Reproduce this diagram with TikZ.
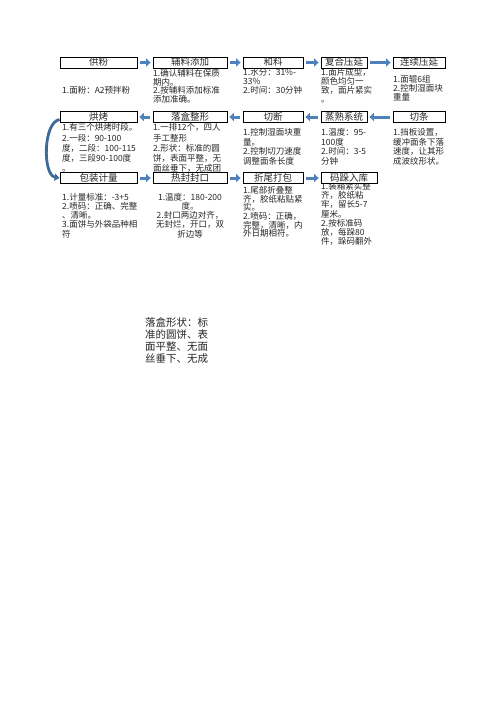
\documentclass[tikz,border=0pt]{standalone}
\usepackage{fontspec}
\setmainfont{Noto Sans CJK SC}
\usepackage{xcolor}
\usepackage{tikz}
\usetikzlibrary{positioning,arrows.meta}
\definecolor{arrowblue}{RGB}{79,129,189}
\definecolor{curveblue}{RGB}{62,106,154}
\begin{document}
\begin{tikzpicture}
			[x=1pt, y=-1pt,
			hbox/.style={draw=black, line width=0.8pt, fill=white, inner sep=0pt,
				text height=8.3pt, text depth=1.5pt, minimum height=11pt,
				font=\fontsize{9.5}{10}\selectfont, text=black!85},
			note/.style={anchor=north west, align=left, inner sep=0pt,
				font=\fontsize{8.5}{#1}\selectfont, text=black!85},
			note/.default=9,
			flow/.style={draw=arrowblue, line width=3pt, -{Triangle[length=4.5pt,width=8pt]},
				shorten <=3pt, shorten >=2pt},
			back/.style={draw=curveblue, line width=2.8pt, -{Triangle[length=5pt,width=7pt]}},
			]
			\useasboundingbox (0,0) rectangle (496,702);
			% notes, row 1
			\node[note] (n11) at (62,86) {1.面粉：A2预拌粉};
			\node[note=8.8] (n12) at (153,69) {1.确认辅料在保质\\期内。\\2.按辅料添加标准\\添加准确。};
			\node[note] (n13) at (243,68.5) {1.水分：31\%-\\33\%\\2.时间：30分钟};
			\node[note=8.8] (n14) at (321,68.5) {1.面片成型，\\颜色均匀一\\致，面片紧实\\。};
			\node[note] (n15) at (393,75) {1.面辊6组\\2.控制湿面块\\重量};
			% notes, row 2
			\node[note=10.2] (n21) at (62,123.5) {1.有三个烘烤时段。\\2.一段：90-100\\度，二段：100-115\\度，三段90-100度\\。};
			\node[note=10.2] (n22) at (153,123.5) {1.一排12个，四人\\手工整形\\2.形状：标准的圆\\饼，表面平整，无\\面丝垂下，无成团};
			\node[note=9.8] (n23) at (243,128) {1.控制湿面块重\\量。\\2.控制切刀速度\\调整面条长度};
			\node[note=9.8] (n24) at (321,128) {1.温度：95-\\100度\\2.时间：3-5\\分钟};
			\node[note=9.8] (n25) at (393,128) {1.挡板设置，\\缓冲面条下落\\速度，让其形\\成波纹形状。};
			% notes, row 3
			\node[note=9.2] (n31) at (62,193) {1.计量标准：-3+5\\2.喷码：正确、完整\\、清晰。\\3.面饼与外袋品种相\\符};
			\node[note=9.2, anchor=north, align=center] (n32) at (190,193) {1.温度：180-200\\度。\\2.封口两边对齐，\\无封烂，开口，双\\折边等};
			\node[note=8.7] (n33) at (243,186) {1.尾部折叠整\\齐，胶纸粘贴紧\\实。\\2.喷码：正确，\\完整，清晰，内\\外日期相符。};
			\begin{scope}
				\clip (310,180) rectangle (392,246);
				\node[note=9.2] (n34) at (321,182) {1.装箱紧实整\\齐，胶纸粘\\牢，留长5-7\\厘米。\\2.按标准码\\放，每跺80\\件，跺码翻外};
			\end{scope}
			\node[note, font=\fontsize{10.5}{12}\selectfont] (shape) at (145,317.5) {落盒形状：标\\准的圆饼、表\\面平整、无面\\丝垂下、无成};
			% row 1
			\node[hbox, minimum width=77pt] (gf) at (98.5,62.5) {供粉};
			\node[hbox, minimum width=74pt] (fl) at (190,62.5) {辅料添加};
			\node[hbox, minimum width=60pt] (hl) at (273,62.5) {和料};
			\node[hbox, minimum width=46pt] (fh) at (344,62.5) {复合压延};
			\node[hbox, minimum width=52pt] (lx) at (419,62.5) {连续压延};
			% row 2
			\node[hbox, minimum width=77pt] (hk) at (98.5,117) {烘烤};
			\node[hbox, minimum width=74pt] (lh) at (190,117) {落盒整形};
			\node[hbox, minimum width=60pt] (qd) at (273,117) {切断};
			\node[hbox, minimum width=46pt] (zs) at (344,117) {蒸熟系统};
			\node[hbox, minimum width=52pt] (qt) at (419,117) {切条};
			% row 3
			\node[hbox, minimum width=77pt] (bz) at (98.5,178) {包装计量};
			\node[hbox, minimum width=74pt] (rf) at (190,178) {热封封口};
			\node[hbox, minimum width=60pt] (zw) at (273,178) {折尾打包};
			\node[hbox, minimum width=56pt] (md) at (349,178) {码跺入库};
			% arrows
			\draw[flow] (gf) -- (fl);
			\draw[flow] (fl) -- (hl);
			\draw[flow] (hl) -- (fh);
			\draw[flow] (fh) -- (lx);
			\draw[flow] (qt) -- (zs);
			\draw[flow] (zs) -- (qd);
			\draw[flow] (qd) -- (lh);
			\draw[flow] (lh) -- (hk);
			\draw[flow] (bz) -- (rf);
			\draw[flow] (rf) -- (zw);
			\draw[flow] (zw) -- (md);
			\draw[back] ([yshift=-2.5pt]hk.west) to[out=190, in=170, looseness=0.75] (bz.west);
		\end{tikzpicture}
\end{document}
